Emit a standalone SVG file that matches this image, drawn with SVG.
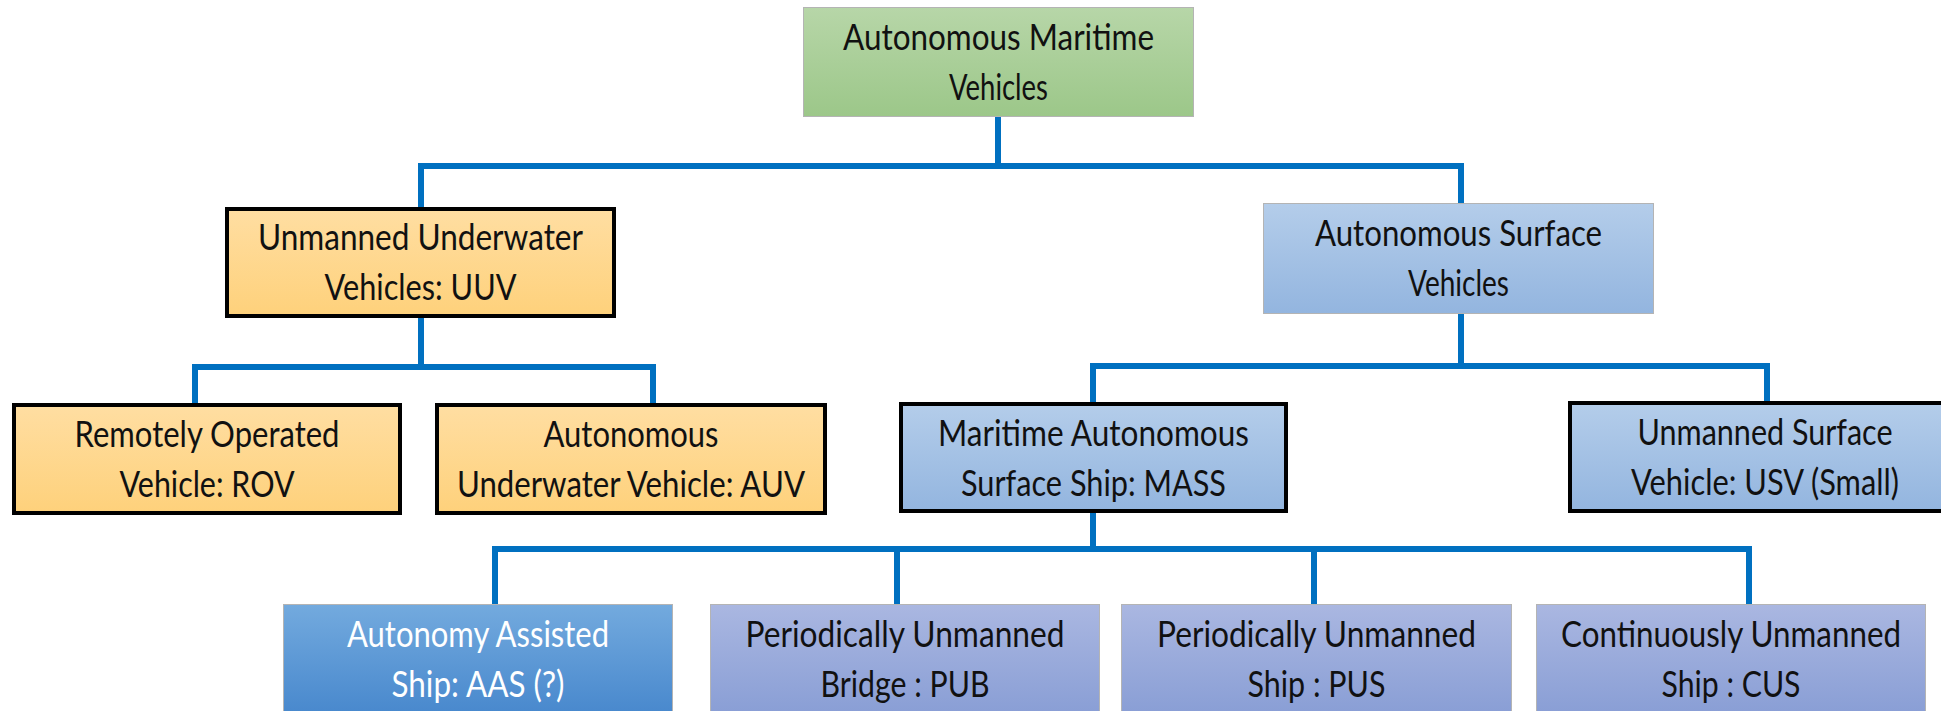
<svg xmlns="http://www.w3.org/2000/svg" width="1941" height="711" viewBox="0 0 1941 711">
<style>
.t{font-family:Lato,"Open Sans",sans-serif;font-size:34px;fill:#111;text-anchor:middle}
.w{fill:#fff}
.c{fill:none;stroke:#0070c0;stroke-width:6;stroke-linejoin:miter;stroke-linecap:butt}
.thin{stroke:#b4b4b4;stroke-width:1}
.bold{stroke:#000;stroke-width:4}
</style>
<defs>
<linearGradient id="gGreen" x1="0" y1="0" x2="0" y2="1"><stop offset="0" stop-color="#b7d6a8"/><stop offset="1" stop-color="#9cc789"/></linearGradient>
<linearGradient id="gOrange" x1="0" y1="0" x2="0" y2="1"><stop offset="0" stop-color="#ffdea2"/><stop offset="1" stop-color="#fed17b"/></linearGradient>
<linearGradient id="gBlue" x1="0" y1="0" x2="0" y2="1"><stop offset="0" stop-color="#b4cdea"/><stop offset="1" stop-color="#93b5df"/></linearGradient>
<linearGradient id="gDeep" x1="0" y1="0" x2="0" y2="1"><stop offset="0" stop-color="#73aade"/><stop offset="1" stop-color="#4888cd"/></linearGradient>
<linearGradient id="gPeri" x1="0" y1="0" x2="0" y2="1"><stop offset="0" stop-color="#aab7e1"/><stop offset="1" stop-color="#899ed5"/></linearGradient>
</defs>
<g id="connectors">
<path class="c" d="M998 117 V166"/>
<path class="c" d="M421 207 V166 H1461 V203"/>
<path class="c" d="M421 318 V367"/>
<path class="c" d="M195 403 V367 H653 V403"/>
<path class="c" d="M1461 314 V366"/>
<path class="c" d="M1093 402 V366 H1767 V401"/>
<path class="c" d="M1093 513 V549"/>
<path class="c" d="M495 604 V549 H1749 V604"/>
<path class="c" d="M897 549 V604"/>
<path class="c" d="M1314 549 V604"/>
</g>
<g id="root">
<rect class="thin" x="803.5" y="7.5" width="390" height="109" fill="url(#gGreen)"/>
<text class="t" transform="translate(998.5 50) scale(1 1.1)" textLength="311" lengthAdjust="spacingAndGlyphs">Autonomous Maritime</text>
<text class="t" transform="translate(998.5 100) scale(1 1.1)" textLength="99" lengthAdjust="spacingAndGlyphs">Vehicles</text>
</g>
<g id="uuv">
<rect class="bold" x="227" y="209" width="387" height="107" fill="url(#gOrange)"/>
<text class="t" transform="translate(420.5 250) scale(1 1.1)" textLength="325" lengthAdjust="spacingAndGlyphs">Unmanned Underwater</text>
<text class="t" transform="translate(420.5 300) scale(1 1.1)" textLength="192" lengthAdjust="spacingAndGlyphs">Vehicles: UUV</text>
</g>
<g id="asv">
<rect class="thin" x="1263.5" y="203.5" width="390" height="110" fill="url(#gBlue)"/>
<text class="t" transform="translate(1458.5 246) scale(1 1.1)" textLength="287" lengthAdjust="spacingAndGlyphs">Autonomous Surface</text>
<text class="t" transform="translate(1458.5 296) scale(1 1.1)" textLength="101" lengthAdjust="spacingAndGlyphs">Vehicles</text>
</g>
<g id="rov">
<rect class="bold" x="14" y="405" width="386" height="108" fill="url(#gOrange)"/>
<text class="t" transform="translate(207 447) scale(1 1.1)" textLength="265" lengthAdjust="spacingAndGlyphs">Remotely Operated</text>
<text class="t" transform="translate(207 497) scale(1 1.1)" textLength="175" lengthAdjust="spacingAndGlyphs">Vehicle: ROV</text>
</g>
<g id="auv">
<rect class="bold" x="437" y="405" width="388" height="108" fill="url(#gOrange)"/>
<text class="t" transform="translate(631 447) scale(1 1.1)" textLength="175" lengthAdjust="spacingAndGlyphs">Autonomous</text>
<text class="t" transform="translate(631 497) scale(1 1.1)" textLength="348" lengthAdjust="spacingAndGlyphs">Underwater Vehicle: AUV</text>
</g>
<g id="mass">
<rect class="bold" x="901" y="404" width="385" height="107" fill="url(#gBlue)"/>
<text class="t" transform="translate(1093.5 446) scale(1 1.1)" textLength="311" lengthAdjust="spacingAndGlyphs">Maritime Autonomous</text>
<text class="t" transform="translate(1093.5 496) scale(1 1.1)" textLength="265" lengthAdjust="spacingAndGlyphs">Surface Ship: MASS</text>
</g>
<g id="usv">
<rect class="bold" x="1570" y="403" width="387" height="108" fill="url(#gBlue)"/>
<text class="t" transform="translate(1765 445) scale(1 1.1)" textLength="255" lengthAdjust="spacingAndGlyphs">Unmanned Surface</text>
<text class="t" transform="translate(1765 495) scale(1 1.1)" textLength="268" lengthAdjust="spacingAndGlyphs">Vehicle: USV (Small)</text>
</g>
<g id="aas">
<rect class="thin" x="283.5" y="604.5" width="389" height="110" fill="url(#gDeep)"/>
<text class="t w" transform="translate(478 647) scale(1 1.1)" textLength="262" lengthAdjust="spacingAndGlyphs">Autonomy Assisted</text>
<text class="t w" transform="translate(478 697) scale(1 1.1)" textLength="173" lengthAdjust="spacingAndGlyphs">Ship: AAS (?)</text>
</g>
<g id="pub">
<rect class="thin" x="710.5" y="604.5" width="389" height="110" fill="url(#gPeri)"/>
<text class="t" transform="translate(905 647) scale(1 1.1)" textLength="319" lengthAdjust="spacingAndGlyphs">Periodically Unmanned</text>
<text class="t" transform="translate(905 697) scale(1 1.1)" textLength="169" lengthAdjust="spacingAndGlyphs">Bridge : PUB</text>
</g>
<g id="pus">
<rect class="thin" x="1121.5" y="604.5" width="390" height="110" fill="url(#gPeri)"/>
<text class="t" transform="translate(1316.5 647) scale(1 1.1)" textLength="319" lengthAdjust="spacingAndGlyphs">Periodically Unmanned</text>
<text class="t" transform="translate(1316.5 697) scale(1 1.1)" textLength="138" lengthAdjust="spacingAndGlyphs">Ship : PUS</text>
</g>
<g id="cus">
<rect class="thin" x="1536.5" y="604.5" width="389" height="110" fill="url(#gPeri)"/>
<text class="t" transform="translate(1731 647) scale(1 1.1)" textLength="340" lengthAdjust="spacingAndGlyphs">Continuously Unmanned</text>
<text class="t" transform="translate(1731 697) scale(1 1.1)" textLength="139" lengthAdjust="spacingAndGlyphs">Ship : CUS</text>
</g>
</svg>
